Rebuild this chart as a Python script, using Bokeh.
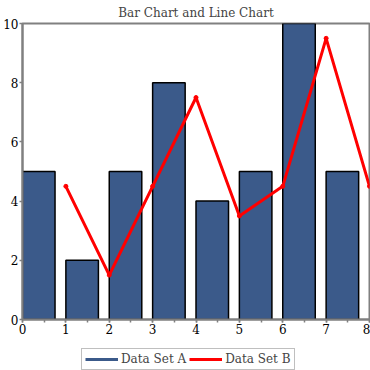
from bokeh.plotting import figure
from bokeh.layouts import column
from bokeh.models import Range1d, Legend, LegendItem
from bokeh.embed import file_html
from bokeh.resources import INLINE

bar_x = [0, 1, 2, 3, 4, 5, 6, 7]
bar_values = [5, 2, 5, 8, 4, 5, 10, 5]
line_x = [1, 2, 3, 4, 5, 6, 7, 8]
line_values = [4.5, 1.5, 4.5, 7.5, 3.5, 4.5, 9.5, 4.5]
series_names = ["Data Set A", "Data Set B"]
title_text = "Bar Chart and Line Chart"

BAR_W = 0.75
BAR_COLOR = "#3b5a8a"
LINE_COLOR = "#ff0000"
FONT = "DejaVu Serif"
NAN = float("nan")

p = figure(width=370, height=341, output_backend="svg", toolbar_location=None,
           x_range=Range1d(0, 8), y_range=Range1d(0, 10),
           title=title_text, min_border_left=22, min_border_right=1,
           min_border_top=23, min_border_bottom=22)
p.title.text_font = FONT
p.title.text_font_size = "12px"
p.title.text_font_style = "normal"
p.title.align = "center"
p.title.offset = 0
p.title.standoff = 7

p.xgrid.visible = False
p.ygrid.visible = False
p.outline_line_color = "#808080"
p.outline_line_width = 2

lefts = bar_x
rights = [x + BAR_W for x in bar_x]
p.quad(left=lefts, right=rights, bottom=0, top=bar_values,
       fill_color=BAR_COLOR, line_color="black", line_width=1.5)

p.line(x=line_x, y=line_values, line_color=LINE_COLOR, line_width=3)
p.scatter(x=line_x, y=line_values, size=4, fill_color=LINE_COLOR, line_color=LINE_COLOR)

for ax in (p.xaxis[0], p.yaxis[0]):
    ax.axis_line_color = "#808080"
    ax.axis_line_width = 2
    ax.major_tick_line_color = "#808080"
    ax.major_tick_line_width = 1.5
    ax.minor_tick_line_color = "#808080"
    ax.minor_tick_line_width = 1.5
    ax.major_tick_out = 3
    ax.major_tick_in = 0
    ax.minor_tick_out = 3
    ax.minor_tick_in = 0
    ax.major_label_text_font = FONT
    ax.major_label_text_font_size = "12px"
    ax.major_label_text_color = "black"
    ax.major_label_standoff = 1

p.xaxis[0].ticker.desired_num_ticks = 8
p.xaxis[0].ticker.num_minor_ticks = 2
p.yaxis[0].minor_tick_line_color = None
p.yaxis[0].ticker.desired_num_ticks = 6

# legend strip
lg = figure(width=370, height=29, output_backend="svg", toolbar_location=None,
            x_range=Range1d(0, 1), y_range=Range1d(0, 1),
            x_axis_location=None, y_axis_location=None,
            min_border_left=0, min_border_right=0, min_border_top=0, min_border_bottom=0)
lg.xgrid.visible = False
lg.ygrid.visible = False
lg.outline_line_color = None
ra = lg.line(x=[NAN], y=[NAN], line_color=BAR_COLOR, line_width=3)
rb = lg.line(x=[NAN], y=[NAN], line_color=LINE_COLOR, line_width=3)

legend = Legend(items=[LegendItem(label=series_names[0], renderers=[ra]),
                       LegendItem(label=series_names[1], renderers=[rb])],
                orientation="horizontal", location=(59, 0),
                label_text_font=FONT, label_text_font_size="12px",
                glyph_width=33, glyph_height=12, label_standoff=3, spacing=3,
                padding=3, margin=0, border_line_color="#808080", border_line_width=1.5,
                label_height=12)
lg.add_layout(legend, "center")

layout = column(p, lg, spacing=0)
open("out.html", "w").write(file_html(layout, INLINE))
